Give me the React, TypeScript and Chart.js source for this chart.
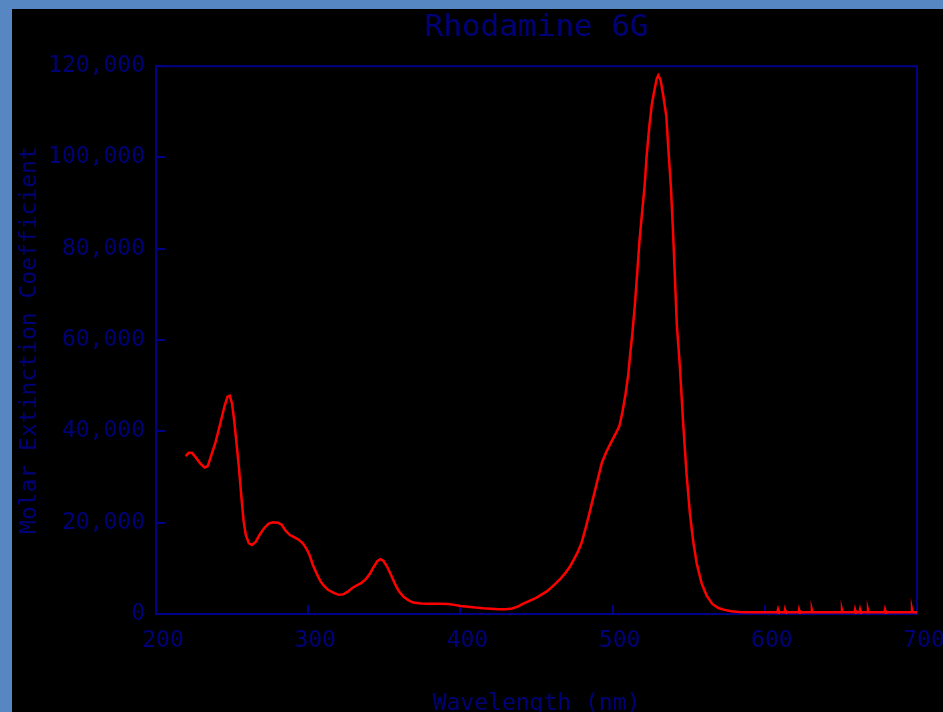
import React, { useEffect, useRef } from "react";
import { Chart, registerables } from "chart.js";

Chart.register(...registerables);

const chartTitle = "Rhodamine 6G";
const xAxisTitle = "Wavelength (nm)";
const yAxisTitle = "Molar Extinction Coefficient";

const xTickValues = [200, 300, 400, 500, 600, 700];
const yTickValues = [0, 20000, 40000, 60000, 80000, 100000, 120000];

const wavelengths = [
  219.5, 221.5, 223.5, 225.5, 229, 232, 234, 236, 239, 242, 245, 247, 248.5, 250, 251.5, 253, 254.5, 256, 257.5, 259,
  261, 263, 265.5, 268, 271, 274, 277, 280, 282.5, 285, 288, 291, 294, 296.5, 299, 301, 303, 305.5, 308, 310,
  313, 316.5, 320, 323, 326, 329, 332, 335, 338, 340.5, 343, 345.5, 347.5, 349.5, 352, 354.5, 357, 359.5, 362.5, 366,
  369, 374, 380, 386, 392, 396, 400, 405, 410, 415, 420, 425, 430, 434, 438, 441, 445, 449, 453, 457,
  460, 463, 466, 469, 472, 474.5, 477, 479.5, 482, 484.5, 487, 490, 493, 496, 499, 502, 504.5, 506.5, 508.5, 510.3,
  511.5, 513, 514.7, 516.3, 517.6, 519.1, 521, 522.4, 524.1, 525.7, 527.5, 529, 530, 531.5, 533.4, 535.3, 536.6, 538.3, 539.8, 541,
  542.2, 544.2, 546.4, 548.6, 550.8, 553, 555.3, 558.5, 561.8, 565.5, 569.5, 573.5, 578, 583, 590, 600,
  608.2, 608.7, 609.2, 613, 613.3, 613.7, 622.2, 622.5, 622.9, 630.6, 630.9, 631.3, 650.4, 650.7, 651.1,
  659, 659.3, 659.7, 662.3, 662.6, 663, 667.5, 667.8, 668.2, 678.7, 679, 679.4, 696.4, 696.7, 697.1, 700,
];

const extinction = [
  34600, 35300, 35300, 34600, 33000, 32100, 32400, 34500, 37500, 41400, 45500, 47600, 47800, 46000, 42000, 37000, 32000, 26000, 20500, 17300,
  15500, 15100, 15800, 17300, 18800, 19800, 20100, 20000, 19600, 18300, 17300, 16800, 16200, 15500, 14200, 12800, 10800, 8900, 7200, 6300,
  5300, 4700, 4200, 4300, 4900, 5700, 6300, 6800, 7700, 8800, 10300, 11600, 12000, 11600, 10300, 8500, 6600, 5000, 3800, 3000,
  2500, 2300, 2250, 2250, 2200, 2000, 1750, 1600, 1400, 1250, 1150, 1050, 1030, 1200, 1650, 2200, 2800, 3400, 4200, 5000,
  5900, 6800, 7800, 9000, 10400, 11900, 13500, 15500, 18500, 21700, 25100, 29200, 33200, 35600, 37600, 39500, 41200, 44300, 48200, 52500,
  56700, 61500, 68000, 75300, 81500, 87000, 93600, 100500, 106700, 111500, 114800, 117300, 118000, 117000, 113300, 109000, 102000, 93600, 83000, 73100,
  63300, 54200, 41500, 30600, 22000, 15800, 11000, 6700, 4000, 2200, 1300, 900, 600, 450, 380, 370,
  370, 1000, 370, 370, 900, 370, 370, 900, 370, 370, 900, 370, 370, 900, 370,
  370, 900, 370, 370, 900, 370, 370, 900, 370, 370, 900, 370, 370, 1000, 370, 370,
];

const NAVY = "#000088";
const TEXT = "#000078";
const MONO = "'DejaVu Sans Mono', 'Liberation Mono', monospace";

const CANVAS_W = 931;
const CANVAS_H = 709;

const framePlugin = {
  id: "frame",
  beforeDatasetsDraw(chart: any) {
    const { ctx, chartArea } = chart;
    const { left, top, right, bottom } = chartArea;
    ctx.save();
    ctx.strokeStyle = NAVY;
    ctx.lineWidth = 2;
    ctx.strokeRect(left, top, right - left, bottom - top);
    ctx.restore();
  },
};

export default function App() {
  const canvasRef = useRef<HTMLCanvasElement | null>(null);

  useEffect(() => {
    const canvas = canvasRef.current;
    if (!canvas) return;
    const points = wavelengths.map((x, i) => ({ x, y: extinction[i] }));
    const chart = new Chart(canvas, {
      type: "line",
      data: {
        datasets: [
          {
            data: points,
            borderColor: "#ff0000",
            borderWidth: 2.5,
            pointRadius: 0,
            tension: 0,
            fill: false,
          },
        ],
      },
      options: {
        animation: false,
        responsive: false,
        maintainAspectRatio: false,
        layout: { padding: { left: 0, top: 0, right: 26, bottom: 0 } },
        plugins: {
          legend: { display: false },
          tooltip: { enabled: false },
          title: {
            display: true,
            text: chartTitle,
            color: TEXT,
            fullSize: false,
            font: { family: MONO, size: 31, weight: "normal" },
            padding: { top: 0, bottom: 20 },
          },
        },
        scales: {
          x: {
            type: "linear",
            min: xTickValues[0],
            max: xTickValues[xTickValues.length - 1],
            afterFit: (s: any) => {
              s.height = CANVAS_H - 605;
              s.paddingLeft = 0;
              s.paddingRight = 0;
            },
            afterBuildTicks: (s: any) => {
              s.ticks = xTickValues.map((v) => ({ value: v }));
            },
            border: { display: false },
            grid: {
              display: true,
              drawOnChartArea: false,
              drawTicks: true,
              tickLength: -9,
              color: NAVY,
              lineWidth: 2,
            },
            ticks: {
              color: TEXT,
              font: { family: MONO, size: 23 },
              padding: 22,
              labelOffset: 7,
              maxRotation: 0,
              autoSkip: false,
              callback: (v: any) => String(v),
            },
            title: {
              display: true,
              text: xAxisTitle,
              color: TEXT,
              font: { family: MONO, size: 23, weight: "normal" },
              padding: { top: 0, bottom: 0 },
            },
          },
          y: {
            type: "linear",
            min: yTickValues[0],
            max: yTickValues[yTickValues.length - 1],
            afterFit: (s: any) => {
              s.width = 144;
              s.paddingTop = 0;
              s.paddingBottom = 0;
            },
            afterBuildTicks: (s: any) => {
              s.ticks = yTickValues.map((v) => ({ value: v }));
            },
            border: { display: false },
            grid: {
              display: true,
              drawOnChartArea: false,
              drawTicks: true,
              tickLength: -9,
              color: NAVY,
              lineWidth: 2,
            },
            ticks: {
              color: TEXT,
              font: { family: MONO, size: 23 },
              padding: 20,
              autoSkip: false,
              callback: (v: any) => Number(v).toLocaleString("en-US"),
            },
            title: {
              display: true,
              text: yAxisTitle,
              color: TEXT,
              font: { family: MONO, size: 23, weight: "normal" },
              padding: { top: 4, bottom: 0 },
            },
          },
        },
      },
      plugins: [framePlugin],
    });
    return () => chart.destroy();
  }, []);

  return (
    <div
      style={{
        position: "fixed",
        left: 0,
        top: 0,
        width: "943px",
        height: "712px",
        background: "#5787c2",
        overflow: "hidden",
      }}
    >
      <div
        style={{
          position: "absolute",
          left: "12px",
          top: "9px",
          width: "931px",
          height: "703px",
          background: "#000000",
          overflow: "hidden",
        }}
      >
        <canvas
          ref={canvasRef}
          width={CANVAS_W}
          height={CANVAS_H}
          style={{ display: "block", width: CANVAS_W + "px", height: CANVAS_H + "px" }}
        />
      </div>
    </div>
  );
}
